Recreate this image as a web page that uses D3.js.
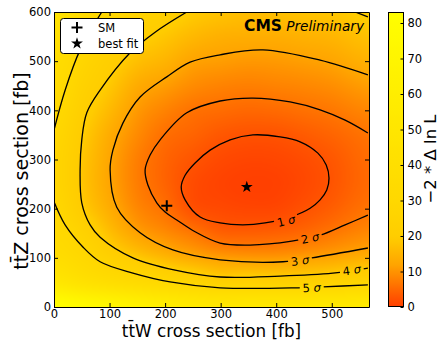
<!DOCTYPE html>
<html>
<head>
<meta charset="utf-8">
<script src="https://cdnjs.cloudflare.com/ajax/libs/d3/7.8.5/d3.min.js"></script>
<style>
  body { margin: 0; background: #fff; }
  text { font-family: "DejaVu Sans", sans-serif; }
</style>
</head>
<body>
<div id="chart"></div>
<script>
// ---- values ----
var ttwTicks = [0, 100, 200, 300, 400, 500];
var ttzTicks = [0, 100, 200, 300, 400, 500, 600];
var cbarTicks = [0, 10, 20, 30, 40, 50, 60, 70, 80];

// -2*dlnL sampled on a 50 fb grid (rows: ttZ, cols: ttW)
var gridW = [0, 50, 100, 150, 200, 250, 300, 350, 400, 450, 500, 550, 600];
var gridZ = [0, 50, 100, 150, 200, 250, 300, 350, 400, 450, 500, 550, 600];
var nll = [
  [83, 77, 72, 66, 60, 55, 52, 52, 52, 53, 54, 55, 56],
  [52, 44, 38, 34, 30, 27, 23.5, 24, 23.5, 24, 25, 27, 28],
  [38, 31, 23.5, 19, 15.5, 13, 11.2, 10.6, 10.5, 11.3, 12.3, 13.7, 14.5],
  [32, 25, 17, 11.7, 9.0, 6.6, 4.1, 3.8, 4.1, 5.0, 6.6, 8.3, 9.5],
  [29.2, 19.8, 13.5, 8.5, 5.8, 2.1, 1.2, 0.77, 0.9, 2.2, 3.7, 5.7, 6.8],
  [27, 18.2, 12.1, 7.3, 4.3, 1.5, 0.4, 0.0, 0.1, 1.1, 2.6, 4.6, 5.8],
  [26.8, 18.5, 12.2, 7.4, 4.4, 2.6, 1.2, 0.64, 0.8, 1.6, 2.9, 4.8, 6.0],
  [28.3, 19.8, 13.3, 8.8, 5.6, 4.3, 2.9, 2.3, 2.4, 3.3, 4.4, 5.8, 7.0],
  [31, 22, 15.8, 10.6, 7.9, 6.0, 5.3, 4.8, 5.1, 5.8, 6.6, 8.0, 9.0],
  [34, 24.5, 18.6, 13.2, 11, 8.9, 7.9, 7.5, 7.9, 8.4, 9.2, 10.7, 11.8],
  [37, 27.5, 21.5, 17, 14.7, 11.8, 11.0, 10.4, 10.6, 11.2, 12.0, 13.8, 15],
  [41, 31, 25, 21, 18.2, 15.5, 14, 13.6, 13.6, 14.3, 15, 16.8, 18],
  [45, 34, 28, 25, 22, 19, 17.5, 16.5, 16.8, 17.5, 18, 19.6, 21]
];

// contour lines [ttW, ttZ]
var sigma1 = [[229,244],[236,268],[254,293],[281,319],[317,340],[358,350],[407,346],[443,336],[475,313],[490,289],[495,262],[491,238],[479,218],[461,201],[430,185],[380,171],[340,167],[299,171],[263,183],[236,218]];
var sigma2 = [[565,187],[524,167],[479,146],[428,134],[353,126],[299,130],[254,153],[221,177],[200,193],[185,212],[169,248],[164,279],[173,309],[191,340],[239,395],[299,419],[358,425],[425,417],[479,401],[524,380],[565,354]];
var sigma3 = [[565,120],[464,100],[412,92],[299,96],[214,116],[155,151],[113,203],[101,279],[106,319],[124,374],[155,427],[203,468],[245,498],[299,513],[376,523],[479,502],[565,472]];
var sigma4 = [[565,79],[502,69],[407,63],[299,61],[218,75],[142,100],[83,142],[65,167],[50,212],[47,279],[50,340],[59,395],[83,441],[137,517],[182,559],[239,600]];
var sigma4b = [[542,600],[565,590]];
var sigma5 = [[565,45],[484,41],[439,39],[299,39],[209,51],[142,69],[83,92],[52,122],[20,167],[0,214]];
var sigma5b = [[0,360],[20,441],[47,523],[86,600]];

var sigmaNames = ["1", "2", "3", "4", "5"];
var labelAt = [[418,175],[461,140],[443,94],[536,75],[464,39]];

var smPoint = [203, 206];
var bestFit = [347, 244];

// ---- drawing ----
var svg = d3.select("#chart").append("svg")
    .attr("width", 439)
    .attr("height", 340);

var x = d3.scaleLinear().domain([0, 567]).range([54, 369]);
var y = d3.scaleLinear().domain([0, 600]).range([307, 12]);
var cz = d3.scaleLinear().domain([0, 83.1]).range([307, 12]);

var heat = d3.scaleLinear()
    .domain([0, 2.3, 6.2, 11.8, 19.3, 28.7, 50, 83.1])
    .range(["#ff4000", "#ff5200", "#ff7400", "#ffa400", "#ffcc00", "#ffd700", "#ffe600", "#ffff00"])
    .clamp(true);

// heatmap
var pw = 315, ph = 295;
var canvas = document.createElement("canvas");
canvas.width = pw; canvas.height = ph;
var ctx = canvas.getContext("2d");
var img = ctx.createImageData(pw, ph);
var lut = d3.range(1001).map(k => d3.rgb(heat(k / 1000 * 83.1)));
var gu = d3.scaleLinear().domain([gridW[0], gridW[gridW.length-1]]).range([0, gridW.length-1]);
var gv = d3.scaleLinear().domain([gridZ[0], gridZ[gridZ.length-1]]).range([0, gridZ.length-1]);

function cr(p0, p1, p2, p3, t){
  return p1 + 0.5*t*(p2 - p0 + t*(2*p0 - 5*p1 + 4*p2 - p3 + t*(3*(p1 - p2) + p3 - p0)));
}
function g(r, c){
  r = Math.max(0, Math.min(nll.length-1, r));
  c = Math.max(0, Math.min(nll[0].length-1, c));
  return nll[r][c];
}
function field(wv, zv){
  var u = gu(wv), v = gv(zv);
  var c = Math.floor(u), r = Math.floor(v), tu = u - c, tv = v - r;
  var rows = [-1,0,1,2].map(dr => cr(g(r+dr,c-1), g(r+dr,c), g(r+dr,c+1), g(r+dr,c+2), tu));
  return Math.max(0, cr(rows[0], rows[1], rows[2], rows[3], tv));
}
for (var j = 0; j < ph; j++){
  for (var i = 0; i < pw; i++){
    var val = field(x.invert(54 + i + 0.5), y.invert(12 + j + 0.5));
    var col = lut[Math.max(0, Math.min(1000, Math.round(val / 83.1 * 1000)))];
    var k = (j*pw + i)*4;
    img.data[k] = col.r; img.data[k+1] = col.g; img.data[k+2] = col.b; img.data[k+3] = 255;
  }
}
ctx.putImageData(img, 0, 0);

svg.append("image")
    .attr("x", 54).attr("y", 12)
    .attr("width", pw).attr("height", ph)
    .attr("preserveAspectRatio", "none")
    .attr("href", canvas.toDataURL());

var defs = svg.append("defs");
defs.append("clipPath").attr("id", "plotclip")
  .append("rect").attr("x", 54).attr("y", 12).attr("width", pw).attr("height", ph);

// contour label angle from nearest segment
var mainLines = [sigma1.concat([sigma1[0]]), sigma2, sigma3, sigma4, sigma5];
var labels = labelAt.map(function(p, n){
  var px = x(p[0]), py = y(p[1]);
  var pts = mainLines[n].map(d => [x(d[0]), y(d[1])]);
  var best = 0, bd = Infinity;
  for (var s = 0; s < pts.length - 1; s++){
    var mx = (pts[s][0] + pts[s+1][0]) / 2, my = (pts[s][1] + pts[s+1][1]) / 2;
    var dd = (mx-px)*(mx-px) + (my-py)*(my-py);
    if (dd < bd){ bd = dd; best = s; }
  }
  var a = Math.atan2(pts[best+1][1] - pts[best][1], pts[best+1][0] - pts[best][0]) * 180 / Math.PI;
  if (a > 90) a -= 180;
  if (a < -90) a += 180;
  return {name: sigmaNames[n], px: px, py: py, angle: a};
});

var mask = defs.append("mask").attr("id", "gaps")
    .attr("maskUnits", "userSpaceOnUse")
    .attr("x", 0).attr("y", 0).attr("width", 439).attr("height", 340);
mask.append("rect").attr("width", 439).attr("height", 340).attr("fill", "#fff");
mask.selectAll("rect.gap").data(labels).enter().append("rect")
    .attr("class", "gap")
    .attr("x", -12).attr("y", -6).attr("width", 24).attr("height", 12)
    .attr("fill", "#000")
    .attr("transform", d => "translate(" + d.px + "," + d.py + ") rotate(" + d.angle + ")");

var lineOpen = d3.line().x(d => x(d[0])).y(d => y(d[1])).curve(d3.curveCatmullRom.alpha(0.5));
var lineClosed = d3.line().x(d => x(d[0])).y(d => y(d[1])).curve(d3.curveCatmullRomClosed.alpha(0.5));

var cg = svg.append("g").attr("clip-path", "url(#plotclip)");
var cl = cg.append("g").attr("mask", "url(#gaps)")
    .attr("fill", "none").attr("stroke", "#000").attr("stroke-width", 1.3);
cl.append("path").attr("d", lineClosed(sigma1));
[sigma2, sigma3, sigma4, sigma4b, sigma5, sigma5b].forEach(function(c){
  cl.append("path").attr("d", lineOpen(c));
});

var lt = cg.selectAll("text.clab").data(labels).enter().append("text")
    .attr("class", "clab")
    .attr("text-anchor", "middle")
    .attr("dy", "0.35em")
    .attr("font-size", "11.5px")
    .attr("fill", "#000")
    .attr("transform", d => "translate(" + d.px + "," + d.py + ") rotate(" + d.angle + ")");
lt.append("tspan").text(d => d.name + " ");
lt.append("tspan").attr("font-style", "italic").text("σ");

// markers
var plus = "M-5.5,0H5.5M0,-5.5V5.5";
var star = d3.symbol().type(d3.symbolStar).size(44);
svg.append("path").attr("d", plus)
    .attr("transform", "translate(" + x(smPoint[0]) + "," + y(smPoint[1]) + ")")
    .attr("stroke", "#000").attr("stroke-width", 2).attr("fill", "none");
svg.append("path").attr("d", star())
    .attr("transform", "translate(" + x(bestFit[0]) + "," + y(bestFit[1]) + ")")
    .attr("fill", "#000");

// axes
function styleAxis(sel){
  sel.selectAll("text").attr("font-size", "11.5px").attr("fill", "#000")
     .style("font-family", "'DejaVu Sans', sans-serif");
  sel.selectAll("line").attr("stroke", "#000");
  sel.select(".domain").attr("stroke", "#000");
}
svg.append("g").attr("transform", "translate(0,307)")
    .call(d3.axisBottom(x).tickValues(ttwTicks).tickSizeInner(-4).tickSizeOuter(0).tickPadding(3))
    .call(styleAxis);
svg.append("g").attr("transform", "translate(0,12)")
    .call(d3.axisTop(x).tickValues(ttwTicks).tickSizeInner(-4).tickSizeOuter(0).tickFormat(""))
    .call(styleAxis);
svg.append("g").attr("transform", "translate(54,0)")
    .call(d3.axisLeft(y).tickValues(ttzTicks).tickSizeInner(-4).tickSizeOuter(0).tickPadding(3))
    .call(styleAxis);
svg.append("g").attr("transform", "translate(369,0)")
    .call(d3.axisRight(y).tickValues(ttzTicks).tickSizeInner(-4).tickSizeOuter(0).tickFormat(""))
    .call(styleAxis);

svg.append("text")
    .attr("x", 211.5).attr("y", 336.5)
    .attr("text-anchor", "middle")
    .attr("font-size", "16.8px")
    .text("tt\u0304W cross section [fb]");
svg.append("text")
    .attr("transform", "translate(28,171) rotate(-90)")
    .attr("text-anchor", "middle")
    .attr("font-size", "19px")
    .text("tt\u0304Z cross section [fb]");

// legend
var leg = svg.append("g");
leg.append("rect").attr("x", 60.5).attr("y", 18.5).attr("width", 83).attr("height", 35).attr("rx", 3)
    .attr("fill", "#fff").attr("stroke", "#000").attr("stroke-width", 1);
leg.append("path").attr("d", plus).attr("transform", "translate(77,27.5)")
    .attr("stroke", "#000").attr("stroke-width", 2).attr("fill", "none");
leg.append("path").attr("d", star()).attr("transform", "translate(77,43.5)").attr("fill", "#000");
leg.append("text").attr("x", 98).attr("y", 31.5).attr("font-size", "11.5px").text("SM");
leg.append("text").attr("x", 98).attr("y", 47.5).attr("font-size", "11.5px").text("best fit");

// CMS tag
svg.append("text").attr("x", 282).attr("y", 31).attr("text-anchor", "end")
    .attr("font-size", "15.5px").attr("font-weight", "bold").text("CMS");
svg.append("text").attr("x", 364).attr("y", 31).attr("text-anchor", "end")
    .attr("font-size", "13.7px").attr("font-style", "italic").text("Preliminary");

// colour bar
var grad = defs.append("linearGradient").attr("id", "cbar")
    .attr("x1", 0).attr("y1", 1).attr("x2", 0).attr("y2", 0);
grad.selectAll("stop").data(d3.range(0, 1.0001, 0.02)).enter().append("stop")
    .attr("offset", d => d)
    .attr("stop-color", d => heat(d * 83.1));
svg.append("rect").attr("x", 388.5).attr("y", 12.5).attr("width", 15).attr("height", 294)
    .attr("fill", "url(#cbar)").attr("stroke", "#000").attr("stroke-width", 1);
svg.append("g").attr("transform", "translate(403.5,0)")
    .call(d3.axisRight(cz).tickValues(cbarTicks).tickSizeInner(-3).tickSizeOuter(0).tickPadding(4))
    .call(styleAxis)
    .call(g => g.select(".domain").remove());
svg.append("text")
    .attr("transform", "translate(436,159) rotate(-90)")
    .attr("text-anchor", "middle")
    .attr("font-size", "16.5px")
    .text("\u22122 * \u0394 ln L");
</script>
</body>
</html>
